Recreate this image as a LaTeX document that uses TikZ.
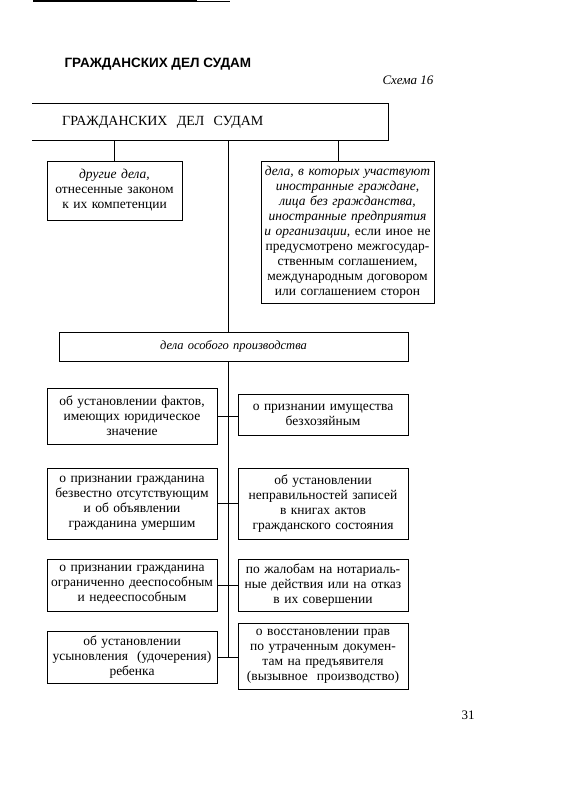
\documentclass[tikz,border=0pt]{standalone}
\usepackage{fontspec}
\setmainfont{Liberation Serif}
\newfontfamily\headfont{Liberation Sans}
\usetikzlibrary{positioning}

\begin{document}
\begin{tikzpicture}[x=1pt,y=-1pt,
    box/.style={draw,line width=0.9pt,inner sep=2pt,align=center,font=\fontsize{13.5}{15}\selectfont},
    link/.style={line width=0.7pt}]
        \useasboundingbox (0,0) rectangle (569,799);
        % remains of the page header
        \draw[line width=2.5pt](33,0.5)--(197,0.5);
        \draw[line width=0.6pt](197,1)--(230,1);
        \node[font=\headfont\bfseries\fontsize{13.5}{15}\selectfont,anchor=base west] (title) at (61,68){ГРАЖДАНСКИХ ДЕЛ СУДАМ};
        \node[font=\itshape\fontsize{13}{15}\selectfont,anchor=base east] (scheme) at (437,85){Схема 16};
        % head box, open on the left
        \node[anchor=west,minimum width=356pt,minimum height=36pt,text width=296pt,inner xsep=30pt,align=left,font=\fontsize{14}{16}\selectfont] (courts) at (32,122){ГРАЖДАНСКИХ\ \ ДЕЛ\ \ СУДАМ};
        \draw[line width=1.1pt](courts.north west)--(courts.north east)--(courts.south east)--(courts.south west);
        \coordinate (trunk) at (228,0);
        % first level
        \node[box,minimum width=135pt,minimum height=59pt,text width=131pt] (other) at (114.5,190.5){\textit{другие дела,}\\отнесенные законом\\к их компетенции};
        \node[box,minimum width=173pt,minimum height=142pt,text width=169pt] (foreign) at (347.5,232){\textit{дела, в которых участвуют}\\\textit{иностранные граждане,}\\\textit{лица без гражданства,}\\\textit{иностранные предприятия}\\\textit{и организации,} если иное не\\предусмотрено межгосудар-\\ственным соглашением,\\международным договором\\или соглашением сторон};
        \node[box,minimum width=349pt,minimum height=29pt,text width=345pt,font=\fontsize{12.5}{15}\selectfont] (special) at (233.5,346.5){\textit{дела особого производства}};
        \draw[link](other.north|-courts.south)--(other.north);
        \draw[link]([xshift=-9.5pt]foreign.north|-courts.south)--([xshift=-9.5pt]foreign.north);
        % special proceedings
        \node[box,minimum width=170pt,minimum height=56pt,text width=166pt] (facts) at (132,416){об установлении фактов,\\имеющих юридическое\\значение};
        \node[box,minimum width=170pt,minimum height=41pt,text width=166pt] (ownerless) at (323,414.5){о признании имущества\\безхозяйным};
        \node[box,minimum width=170pt,minimum height=71pt,text width=166pt] (missing) at (132,503.5){о признании гражданина\\безвестно отсутствующим\\и об объявлении\\гражданина умершим};
        \node[box,minimum width=170pt,minimum height=71pt,text width=166pt] (records) at (323,503.5){об установлении\\неправильностей записей\\в книгах актов\\гражданского состояния};
        \node[box,minimum width=170pt,minimum height=52pt,text width=166pt] (capacity) at (132,585){о признании гражданина\\ограниченно дееспособным\\и недееспособным};
        \node[box,minimum width=170pt,minimum height=52pt,text width=166pt] (notary) at (323,585){по жалобам на нотариаль-\\ные действия или на отказ\\в их совершении};
        \node[box,minimum width=170pt,minimum height=52pt,text width=166pt] (adoption) at (132,657){об установлении\\усыновления\ \ (удочерения)\\ребенка};
        \node[box,minimum width=170pt,minimum height=66pt,text width=166pt] (restore) at (323,656){о восстановлении прав\\по утраченным докумен-\\там на предъявителя\\(вызывное\ \ производство)};
        \draw[link](courts.south-|trunk)--(special.north-|trunk);
        \draw[link](special.south-|trunk)--(adoption.east-|trunk);
        \draw[link](facts.east)--(facts.east-|ownerless.west);
        \draw[link](missing.east)--(records.west);
        \draw[link](capacity.east)--(notary.west);
        \draw[link](adoption.east)--(adoption.east-|restore.west);
        \node[font=\fontsize{13}{15}\selectfont] (page) at (468,715){31};
      \end{tikzpicture}
\end{document}
